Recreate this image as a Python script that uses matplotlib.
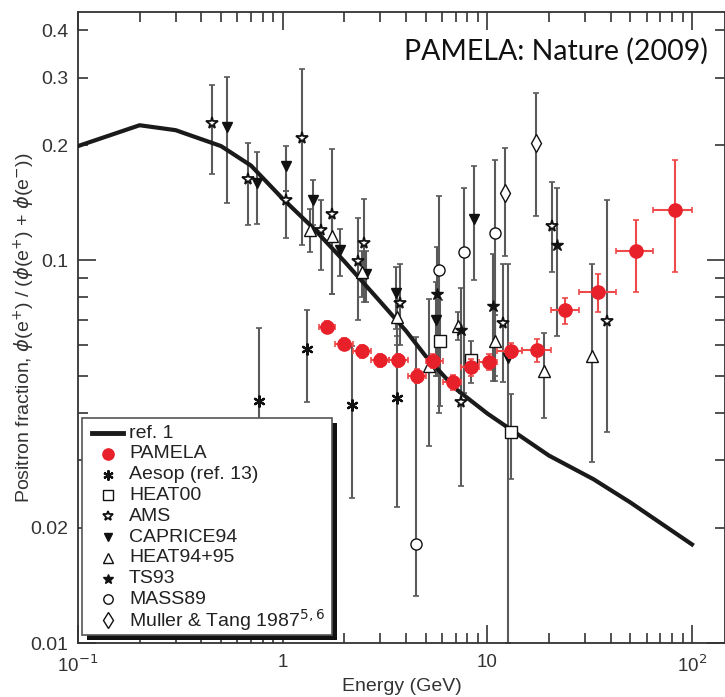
import matplotlib
matplotlib.use("Agg")
import matplotlib.pyplot as plt
from matplotlib.lines import Line2D
from matplotlib.patches import Rectangle
from matplotlib.ticker import FixedLocator, FuncFormatter, NullFormatter
import numpy as np

plt.rcParams['font.family'] = ['Liberation Sans', 'DejaVu Sans']

# ---------------- data ----------------
ref_E = [0.1, 0.2, 0.3, 0.5, 0.7, 1.0, 1.4, 2.0, 3.0, 4.0, 5.0, 7.0, 10, 20, 33, 50, 100]
ref_f = [0.199, 0.2256, 0.219, 0.199, 0.177, 0.145, 0.122, 0.0995, 0.078, 0.0655, 0.0562, 0.0462, 0.0398, 0.0309, 0.0268, 0.0233, 0.0181]

pam_E = [1.64, 2.0, 2.45, 2.98, 3.67, 4.52, 5.43, 6.82, 8.29, 10.2, 13.1, 17.5, 24.0, 34.9, 53.3, 82.6]
pam_Elo = [1.5, 1.8, 2.2, 2.7, 3.3, 4.1, 5.0, 6.1, 7.4, 9.1, 11.2, 14.7, 20.4, 28.2, 42.4, 64.6]
pam_Ehi = [1.8, 2.2, 2.7, 3.3, 4.1, 5.0, 6.1, 7.4, 9.1, 11.2, 14.7, 20.4, 28.2, 42.4, 64.6, 100]
pam_f = [0.0669, 0.0605, 0.0579, 0.0548, 0.0548, 0.0498, 0.0545, 0.0480, 0.0526, 0.0543, 0.0581, 0.0585, 0.0740, 0.0826, 0.1058, 0.1357]
pam_lo = [0.0645, 0.0582, 0.0557, 0.0527, 0.0526, 0.0477, 0.0522, 0.0458, 0.0500, 0.0518, 0.0556, 0.0543, 0.0681, 0.0732, 0.0826, 0.0932]
pam_hi = [0.0693, 0.0628, 0.0601, 0.0570, 0.0571, 0.0520, 0.0569, 0.0503, 0.0553, 0.0570, 0.0607, 0.0625, 0.0799, 0.0919, 0.1272, 0.1835]

aesop_E = [0.766, 1.31, 2.19, 3.6]
aesop_f = [0.043, 0.0587, 0.042, 0.0437]
aesop_lo = [0.016, 0.0426, 0.024, 0.0227]
aesop_hi = [0.0667, 0.074, 0.0599, 0.0636]

heat00_E = [5.9, 8.29, 13.1]
heat00_f = [0.0617, 0.0548, 0.0357]
heat00_lo = [0.0417, 0.0477, 0.0268]
heat00_hi = [0.079, 0.0615, 0.0448]

ams_E = [0.454, 0.68, 1.04, 1.25, 1.545, 1.75, 2.33, 2.51, 3.73, 7.46, 11.9, 20.7, 38.3]
ams_f = [0.228, 0.1637, 0.1436, 0.2083, 0.1198, 0.1325, 0.0994, 0.111, 0.0773, 0.0426, 0.0685, 0.123, 0.0694]
ams_lo = [0.1687, 0.124, 0.1144, 0.1095, 0.0946, 0.0815, 0.0697, 0.0778, 0.060, 0.0258, 0.048, 0.0932, 0.0357]
ams_hi = [0.288, 0.203, 0.1515, 0.316, 0.1436, 0.1953, 0.1294, 0.1444, 0.098, 0.0656, 0.098, 0.1607, 0.1436]

caprice_E = [0.537, 0.752, 1.04, 1.406, 1.9, 2.56, 3.56, 5.64, 8.58, 12.6]
caprice_f = [0.2233, 0.1594, 0.1766, 0.1436, 0.1062, 0.0919, 0.0821, 0.0697, 0.1285, 0.0556]
caprice_lo = [0.1416, 0.1247, 0.1515, 0.1235, 0.0908, 0.0778, 0.066, 0.05, 0.089, 0.01]
caprice_hi = [0.302, 0.192, 0.199, 0.162, 0.121, 0.1057, 0.096, 0.0877, 0.1762, 0.098]

heat9495_E = [1.355, 1.75, 2.45, 3.63, 5.18, 7.17, 10.9, 18.9, 32.4]
heat9495_f = [0.1198, 0.1158, 0.0932, 0.0711, 0.0531, 0.0672, 0.0614, 0.0515, 0.0564]
heat9495_lo = [0.1051, 0.0818, 0.080, 0.060, 0.0328, 0.0618, 0.0485, 0.0388, 0.0298]
heat9495_hi = [0.1366, 0.1325, 0.106, 0.083, 0.0795, 0.0735, 0.072, 0.0645, 0.098]

ts93_E = [5.68, 7.46, 10.7, 22.0]
ts93_f = [0.0818, 0.0656, 0.0762, 0.1095]
ts93_lo = [0.05, 0.045, 0.0485, 0.0636]
ts93_hi = [0.1083, 0.0848, 0.104, 0.1546]

mass89_E = [4.5, 5.83, 7.66, 10.86]
mass89_f = [0.0182, 0.0945, 0.1051, 0.1179]
mass89_lo = [0.01328, 0.04, 0.045, 0.05]
mass89_hi = [0.063, 0.147, 0.1546, 0.1827]

muller_E = [12.2, 17.3]
muller_f = [0.150, 0.2028]
muller_lo = [0.1024, 0.1306]
muller_hi = [0.197, 0.274]

legend_labels = ['ref. 1', 'PAMELA', 'Aesop (ref. 13)', 'HEAT00', 'AMS', 'CAPRICE94',
                 'HEAT94+95', 'TS93', 'MASS89', 'Muller & Tang 1987$^{5,6}$']
y_labels = {0.01: '0.01', 0.02: '0.02', 0.1: '0.1', 0.2: '0.2', 0.3: '0.3', 0.4: '0.4'}
x_labels = {0.1: '10$^{-1}$', 1: '1', 10: '10', 100: '10$^{2}$'}

# ---------------- figure ----------------
W, H = 725, 697
fig = plt.figure(figsize=(W / 100, H / 100), dpi=100)
ax = fig.add_axes([78 / W, 1 - 643 / H, 1 - 78 / W, (643 - 12) / H])
ax.set_xscale('log')
ax.set_yscale('log')
ax.set_xlim(0.1, 145)
ax.set_ylim(0.01, 0.446)

ecol = '#5a5a5a'

# marker styles (shared with legend)
styles = {
    'PAMELA': dict(marker='o', ms=9.5, mfc='#e8202a', mec='#e8202a'),
    'Aesop': dict(marker=(6, 2, 0), ms=8.5, mfc='k', mec='#111111', mew=1.6),
    'HEAT00': dict(marker='s', ms=8, mfc='white', mec='#111111', mew=1.0),
    'AMS': dict(marker='*', ms=8.5, mfc='white', mec='#111111', mew=1.3),
    'CAPRICE94': dict(marker='v', ms=7.5, mfc='#111111', mec='#111111'),
    'HEAT94+95': dict(marker='^', ms=9, mfc='white', mec='#111111', mew=1.0),
    'TS93': dict(marker='*', ms=9, mfc='#111111', mec='#111111'),
    'MASS89': dict(marker='o', ms=8, mfc='white', mec='#111111', mew=1.0),
    'Muller': dict(marker='d', ms=9, mfc='white', mec='#111111', mew=1.0),
}

def series(E, f, lo, hi, key):
    E = np.array(E); f = np.array(f); lo = np.array(lo); hi = np.array(hi)
    ax.errorbar(E, f, yerr=[f - lo, hi - f], fmt='none', ecolor=ecol,
                elinewidth=1.5, capsize=2.5, capthick=1.2, zorder=2)
    ax.plot(E, f, linestyle='none', zorder=4, **styles[key])

series(aesop_E, aesop_f, aesop_lo, aesop_hi, 'Aesop')
series(heat00_E, heat00_f, heat00_lo, heat00_hi, 'HEAT00')
series(ams_E, ams_f, ams_lo, ams_hi, 'AMS')
series(caprice_E, caprice_f, caprice_lo, caprice_hi, 'CAPRICE94')
series(heat9495_E, heat9495_f, heat9495_lo, heat9495_hi, 'HEAT94+95')
series(ts93_E, ts93_f, ts93_lo, ts93_hi, 'TS93')
series(mass89_E, mass89_f, mass89_lo, mass89_hi, 'MASS89')
series(muller_E, muller_f, muller_lo, muller_hi, 'Muller')

ax.plot(ref_E, ref_f, color='#1a1a1a', lw=3, zorder=3, solid_joinstyle='round')

pE = np.array(pam_E); pf = np.array(pam_f)
ax.errorbar(pE, pf, xerr=[pE - np.array(pam_Elo), np.array(pam_Ehi) - pE],
            yerr=[pf - np.array(pam_lo), np.array(pam_hi) - pf], fmt='none',
            ecolor='#ee4a4a', elinewidth=1.5, capsize=2.5, capthick=1.2, zorder=5)
ax.plot(pE, pf, linestyle='none', zorder=6, **styles['PAMELA'])

# ticks
ax.yaxis.set_major_locator(FixedLocator([0.01, 0.1]))
minor_y = [0.02, 0.03, 0.04, 0.05, 0.06, 0.07, 0.08, 0.09, 0.2, 0.3, 0.4]
ax.yaxis.set_minor_locator(FixedLocator(minor_y))
fmt = FuncFormatter(lambda v, p: y_labels.get(round(v, 3), ''))
ax.yaxis.set_major_formatter(fmt)
ax.yaxis.set_minor_formatter(fmt)

ax.xaxis.set_major_locator(FixedLocator([0.1, 1, 10, 100]))
ax.xaxis.set_major_formatter(FuncFormatter(lambda v, p: x_labels.get(v, '')))
minor_x = [m * d for d in (0.1, 1, 10, 100) for m in range(2, 10) if m * d < 145]
ax.xaxis.set_minor_locator(FixedLocator(minor_x))
ax.xaxis.set_minor_formatter(NullFormatter())

ax.tick_params(which='both', direction='in', top=True, right=True,
               colors='#333333', width=1.2)
ax.tick_params(which='major', length=13)
ax.tick_params(which='minor', length=7)
ax.tick_params(axis='y', which='both', labelsize=14, pad=7)
ax.tick_params(axis='x', which='both', labelsize=13.5, pad=8)
for s in ax.spines.values():
    s.set_color('#333333')
    s.set_linewidth(1.3)

ax.set_xlabel('Energy (GeV)', fontsize=14, color='#333333')
ax.xaxis.set_label_coords(0.5, -0.056)
ax.set_ylabel(r'Positron fraction, $\phi$(e$^{+}$) / ($\phi$(e$^{+}$) + $\phi$(e$^{-}$))',
              fontsize=14, color='#333333')
ax.yaxis.set_label_coords((37 - 78) / 647, 0.50)

ax.text((708 - 78) / 647, (643 - 60) / 631, 'PAMELA: Nature (2009)', transform=ax.transAxes,
        ha='right', va='baseline', fontsize=20.5, family='Lato', color='#111111')

# ---------------- legend (drawn in figure pixels) ----------------
def fx(x):
    return x / W

def fy(y):
    return 1 - y / H

bx0, by0, bx1, by1 = 82, 418, 332, 635
fig.add_artist(Rectangle((fx(bx0 + 5), fy(by1 + 5)), (bx1 - bx0) / W, (by1 - by0) / H,
                         transform=fig.transFigure, facecolor='#111111', edgecolor='none', zorder=20))
fig.add_artist(Rectangle((fx(bx0), fy(by1)), (bx1 - bx0) / W, (by1 - by0) / H,
                         transform=fig.transFigure, facecolor='white', edgecolor='#555555',
                         lw=1.2, zorder=21))
leg_keys = [None, 'PAMELA', 'Aesop', 'HEAT00', 'AMS', 'CAPRICE94', 'HEAT94+95', 'TS93', 'MASS89', 'Muller']
row_y0, row_dy = 433, 20.8
for i, (key, lab) in enumerate(zip(leg_keys, legend_labels)):
    yy = row_y0 + i * row_dy
    if key is None:
        fig.add_artist(Line2D([fx(92), fx(123)], [fy(yy), fy(yy)], transform=fig.transFigure,
                              color='#1a1a1a', lw=3.5, zorder=22))
    else:
        st = dict(styles[key])
        st['ms'] = st['ms'] * 0.85
        fig.add_artist(Line2D([fx(108)], [fy(yy)], transform=fig.transFigure,
                              linestyle='none', zorder=22, **st))
    fig.text(fx(129), fy(yy), lab, ha='left', va='center', fontsize=14,
             color='#222222', zorder=23)

fig.savefig('out.png', dpi=100)
